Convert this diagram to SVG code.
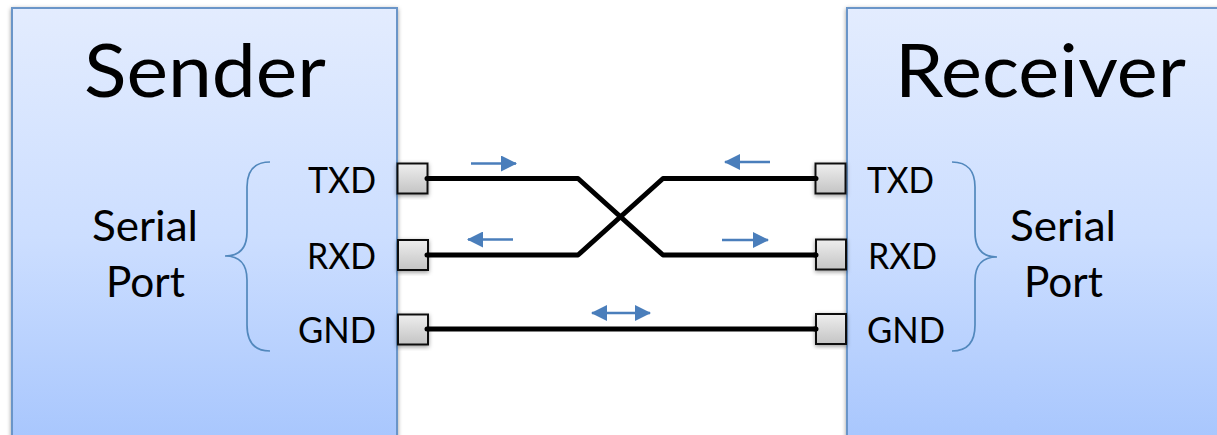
<svg xmlns="http://www.w3.org/2000/svg" width="1217" height="435" viewBox="0 0 1217 435">
<defs>
<linearGradient id="boxFill" x1="0" y1="0" x2="0" y2="1"><stop offset="0" stop-color="#e3ecfe"/><stop offset="0.5" stop-color="#ccdeff"/><stop offset="1" stop-color="#a3c3fd"/></linearGradient>
<linearGradient id="portFill" x1="0" y1="0" x2="0" y2="1"><stop offset="0" stop-color="#eeeeee"/><stop offset="1" stop-color="#c4c4c4"/></linearGradient>
<filter id="shadow" x="-20%" y="-20%" width="140%" height="140%"><feDropShadow dx="0" dy="1.5" stdDeviation="2" flood-color="#000" flood-opacity="0.4"/></filter>
<marker id="head" viewBox="0 0 16 16" markerUnits="userSpaceOnUse" markerWidth="16" markerHeight="16" refX="15" refY="8" orient="auto-start-reverse"><path d="M0 0L16 8L0 16Z" fill="#4a7ebb"/></marker>
</defs>
<style>
.box{fill:url(#boxFill);stroke:#6a95c8;stroke-width:2;filter:url(#shadow)}
.port{fill:url(#portFill);stroke:#111;stroke-width:2;filter:url(#shadow)}
.wire{fill:none;stroke:#000;stroke-width:5;stroke-linejoin:round;stroke-linecap:round}
.arrow{fill:none;stroke:#4a7ebb;stroke-width:2.4}
.brace{fill:none;stroke:#5288bd;stroke-width:1.7}
text{font-family:"Lato","Open Sans","Liberation Sans",sans-serif;fill:#000}
.title{font-size:74px}
.sig{font-size:36px}
.sp{font-size:43px}
</style>
<g id="sender">
<rect class="box" x="12" y="8" width="385" height="460"/>
<text class="title" x="84" y="97" textLength="242" lengthAdjust="spacingAndGlyphs">Sender</text>
<text class="sp" x="92" y="241" textLength="106" lengthAdjust="spacingAndGlyphs">Serial</text>
<text class="sp" x="106" y="297" textLength="79" lengthAdjust="spacingAndGlyphs">Port</text>
<path class="brace" d="M270 162C253 162 247 172 247 187V232C247 248 240 256 225 256C240 256 247 264 247 280V325C247 341 253 351 270 351"/>
<text class="sig" x="308" y="193" textLength="68" lengthAdjust="spacingAndGlyphs">TXD</text>
<text class="sig" x="307" y="269" textLength="69" lengthAdjust="spacingAndGlyphs">RXD</text>
<text class="sig" x="298" y="343" textLength="78" lengthAdjust="spacingAndGlyphs">GND</text>
</g>
<g id="receiver">
<rect class="box" x="847" y="8" width="400" height="460"/>
<text class="title" x="895" y="97" textLength="291" lengthAdjust="spacingAndGlyphs">Receiver</text>
<text class="sp" x="1010" y="241" textLength="106" lengthAdjust="spacingAndGlyphs">Serial</text>
<text class="sp" x="1024" y="297" textLength="79" lengthAdjust="spacingAndGlyphs">Port</text>
<path class="brace" d="M952 162C968 162 975 172 975 187V232C975 248 982 257 997 257C982 257 975 265 975 281V325C975 341 968 351 952 351"/>
<text class="sig" x="867" y="193" textLength="67" lengthAdjust="spacingAndGlyphs">TXD</text>
<text class="sig" x="868" y="269" textLength="69" lengthAdjust="spacingAndGlyphs">RXD</text>
<text class="sig" x="867" y="343" textLength="78" lengthAdjust="spacingAndGlyphs">GND</text>
</g>
<g id="connectors">
<path class="wire" d="M427 178.500H578L663 255H816"/>
<path class="wire" d="M427 255H578L663 178.500H816"/>
<path class="wire" d="M427 329H816"/>
<path class="arrow" d="M471 163.500H516" marker-end="url(#head)"/>
<path class="arrow" d="M513 239.500H468" marker-end="url(#head)"/>
<path class="arrow" d="M770 162H725" marker-end="url(#head)"/>
<path class="arrow" d="M722 240H768" marker-end="url(#head)"/>
<path class="arrow" d="M592 313H650" marker-start="url(#head)" marker-end="url(#head)"/>
</g>
<g id="port-s-txd"><rect class="port" x="397.500" y="163.500" width="30" height="30" style="fill-opacity:1"/></g>
<g id="port-s-rxd"><rect class="port" x="398" y="240" width="30" height="30"/></g>
<g id="port-s-gnd"><rect class="port" x="398" y="314.500" width="30" height="30"/></g>
<g id="port-r-txd"><rect class="port" x="815.500" y="163.500" width="30" height="30"/></g>
<g id="port-r-rxd"><rect class="port" x="816" y="239.500" width="30" height="30"/></g>
<g id="port-r-gnd"><rect class="port" x="816" y="314" width="30" height="30"/></g>
<path class="wire" d="M427 178.500H428M427 255H428M427 329H428M815 178.500H816M815 255H816M815 329H816"/>
</svg>
